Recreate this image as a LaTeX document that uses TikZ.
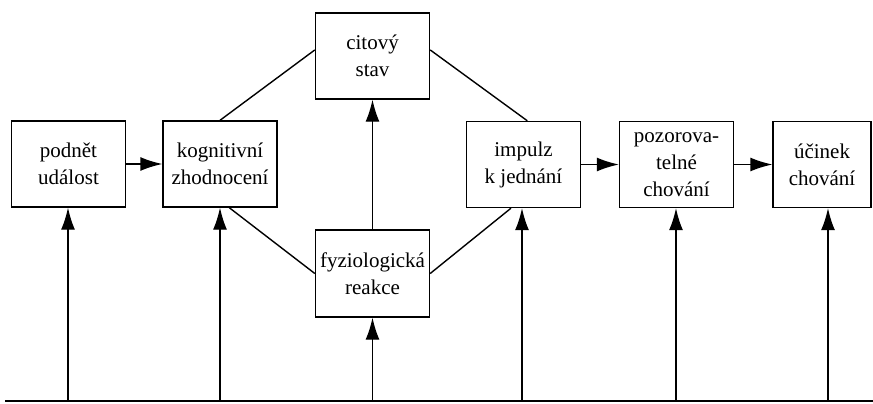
\documentclass[tikz,border=0pt]{standalone}
\usepackage{fontspec}
\setmainfont{Liberation Serif}
\usetikzlibrary{arrows.meta}

\begin{document}
\begin{tikzpicture}[x=1pt,y=-1pt,line width=1.4pt,
  box/.style={draw,minimum width=114pt,minimum height=86pt,align=center,inner sep=2pt,
    font=\fontsize{21}{27}\selectfont},
  arr/.style={-{Latex[length=22pt,width=14pt]}}]
  \useasboundingbox (0,0) rectangle (873,404);
  % Boxes along the middle row
  \node[box] (podnet) at (68.5,164) {podnět\\událost};
  \node[box] (kognit) at (220,164) {kognitivní\\zhodnocení};
  \node[box] (impulz) at (523.5,164.5) {impulz\\k jednání};
  \node[box] (pozor) at (676.5,164.5) {pozorova-\\telné\\chování};
  \node[box,minimum width=98pt] (ucinek) at (822,164.5) {účinek\\chování};
  % Upper and lower boxes in the middle
  \node[box] (citovy) at (372.5,56) {citový\\stav};
  \node[box,minimum height=87pt] (fyzio) at (372.5,273.5) {fyziologická\\reakce};

  % Arrows along the row
  \draw[arr] (podnet) -- (kognit);
  \draw[arr] (impulz) -- (pozor);
  \draw[arr] (pozor) -- (ucinek);
  \draw[arr] (fyzio) -- (citovy);

  % Plain links round the middle
  \draw (kognit.north) -- (citovy.174);
  \draw (citovy.6) -- (impulz.85);
  \draw (kognit.-78) -- (fyzio.west);
  \draw (fyzio.east) -- (impulz.-106);

  % Base line with the arrows rising from it
  \coordinate (left) at (5,401);
  \coordinate (right) at (873,401);
  \draw (left) -- (right);
  \foreach \n/\x [count=\i] in {podnet/68, kognit/220, fyzio/372.5, impulz/522, pozor/676, ucinek/828} {
    \coordinate (b\i) at (\x,401);
    \draw[arr] (b\i) -- (b\i |- \n.south);
  }
\end{tikzpicture}
\end{document}
